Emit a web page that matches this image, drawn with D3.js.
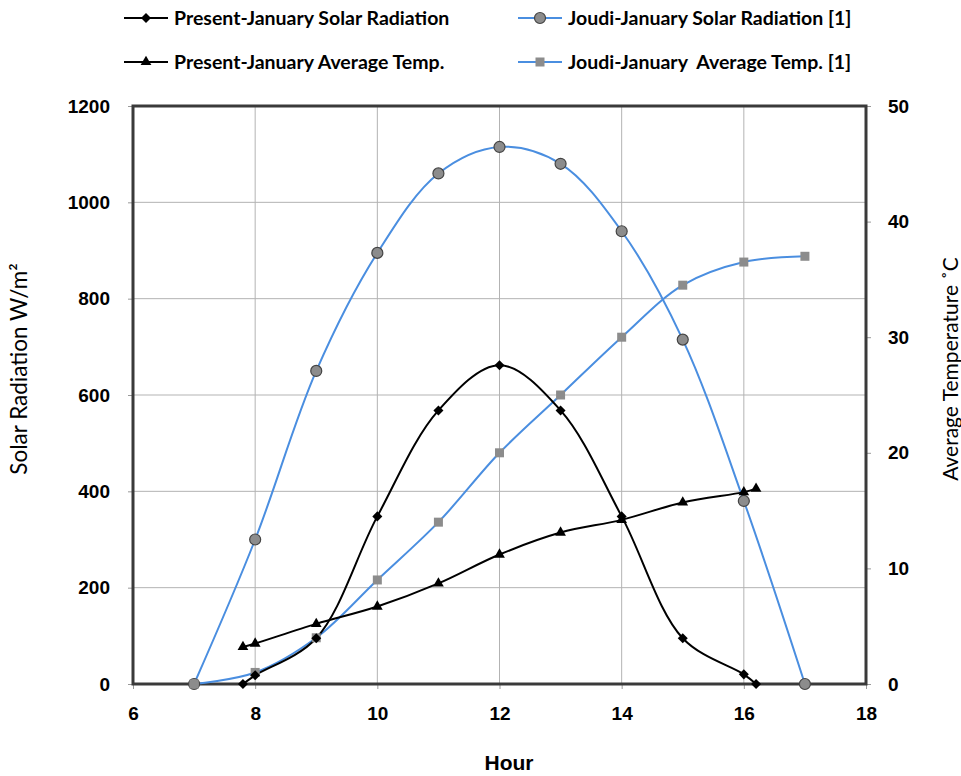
<!DOCTYPE html>
<html>
<head>
<meta charset="utf-8">
<script src="https://cdn.jsdelivr.net/npm/d3@7"></script>
<style>
  body { margin: 0; background: #fff; }
  svg text { fill: #000; }
</style>
</head>
<body>
<script>
// hours and values
var presentSolarHours = [7.8, 8, 9, 10, 11, 12, 13, 14, 15, 16, 16.2];
var presentSolar = [0, 18, 95, 348, 568, 662, 568, 348, 95, 20, 0];

var presentTempHours = [7.8, 8, 9, 10, 11, 12, 13, 14, 15, 16, 16.2];
var presentTemp = [3.2, 3.5, 5.2, 6.7, 8.7, 11.2, 13.1, 14.2, 15.7, 16.6, 16.9];

var joudiHours = [7, 8, 9, 10, 11, 12, 13, 14, 15, 16, 17];
var joudiSolar = [0, 300, 650, 895, 1060, 1115, 1080, 940, 715, 380, 0];
var joudiTemp = [0, 1.0, 4.0, 9.0, 14.0, 20.0, 25.0, 30.0, 34.5, 36.5, 37.0];

var xTicks = [6, 8, 10, 12, 14, 16, 18];
var leftTicks = [0, 200, 400, 600, 800, 1000, 1200];
var rightTicks = [0, 10, 20, 30, 40, 50];

var svgWidth = 961;
var svgHeight = 776;
var plot = { left: 133, right: 866, top: 106, bottom: 684 };

var svg = d3.select("body")
  .append("svg")
    .attr("width", svgWidth)
    .attr("height", svgHeight);

var x = d3.scaleLinear().domain([6, 18]).range([plot.left, plot.right]);
var y = d3.scaleLinear().domain([0, 1200]).range([plot.bottom, plot.top]);
var y2 = d3.scaleLinear().domain([0, 50]).range([plot.bottom, plot.top]);

var blue = "#4a8ee0";
var tickFont = "'Liberation Sans', Arial, sans-serif";
var labelFont = "Lato, 'Open Sans', sans-serif";

// grid
svg.append("g")
  .selectAll("line")
  .data(xTicks.slice(1, -1))
  .enter().append("line")
    .attr("x1", d => x(d)).attr("x2", d => x(d))
    .attr("y1", plot.top).attr("y2", plot.bottom)
    .attr("stroke", "#b3b3b3").attr("stroke-width", 1);
svg.append("g")
  .selectAll("line")
  .data(leftTicks.slice(1, -1))
  .enter().append("line")
    .attr("x1", plot.left).attr("x2", plot.right)
    .attr("y1", d => y(d)).attr("y2", d => y(d))
    .attr("stroke", "#b3b3b3").attr("stroke-width", 1);

// axes
var xAxis = svg.append("g")
  .attr("transform", "translate(0," + plot.bottom + ")")
  .call(d3.axisBottom(x).tickValues(xTicks).tickSize(5).tickPadding(18));
var yAxis = svg.append("g")
  .attr("transform", "translate(" + plot.left + ",0)")
  .call(d3.axisLeft(y).tickValues(leftTicks).tickFormat(d3.format("d")).tickSize(5).tickPadding(18));
var y2Axis = svg.append("g")
  .attr("transform", "translate(" + plot.right + ",0)")
  .call(d3.axisRight(y2).tickValues(rightTicks).tickSize(5).tickPadding(17));

[xAxis, yAxis, y2Axis].forEach(function(g) {
  g.select(".domain").remove();
  g.selectAll(".tick line").attr("stroke", "#999");
  g.selectAll("text")
    .style("font-family", tickFont)
    .style("font-size", "19px")
    .style("font-weight", "bold");
});

// frame
svg.append("rect")
  .attr("x", plot.left).attr("y", plot.top)
  .attr("width", plot.right - plot.left).attr("height", plot.bottom - plot.top)
  .attr("fill", "none").attr("stroke", "#3a3a3a").attr("stroke-width", 3);

// lines
var curve = d3.curveCatmullRom.alpha(0.5);
function drawLine(hours, vals, scale, color) {
  var line = d3.line()
    .x((d, i) => x(hours[i]))
    .y(d => scale(d))
    .curve(curve);
  svg.append("path")
    .datum(vals)
    .attr("d", line)
    .attr("fill", "none")
    .attr("stroke", color)
    .attr("stroke-width", 2);
}

drawLine(joudiHours, joudiSolar, y, blue);
drawLine(joudiHours, joudiTemp, y2, blue);
drawLine(presentSolarHours, presentSolar, y, "#000");
drawLine(presentTempHours, presentTemp, y2, "#000");

// markers
var diamond = d3.symbol().type(d3.symbolDiamond2).size(64);
var triangle = d3.symbol().type(d3.symbolTriangle).size(50);

function markers(hours, vals, scale, draw) {
  var g = svg.append("g");
  vals.forEach(function(v, i) { draw(g, x(hours[i]), scale(v)); });
}

function drawCircle(g, cx, cy) {
  g.append("circle").attr("cx", cx).attr("cy", cy).attr("r", 5.5)
    .attr("fill", "#8c8c8c").attr("stroke", "#444").attr("stroke-width", 1.2);
}
function drawSquare(g, cx, cy) {
  g.append("rect").attr("x", cx - 4.5).attr("y", cy - 4.5)
    .attr("width", 9).attr("height", 9).attr("fill", "#8c8c8c");
}
function drawDiamond(g, cx, cy) {
  g.append("path").attr("d", diamond)
    .attr("transform", "translate(" + cx + "," + cy + ")")
    .attr("fill", "#000");
}
function drawTriangle(g, cx, cy) {
  g.append("path").attr("d", triangle)
    .attr("transform", "translate(" + cx + "," + cy + ")")
    .attr("fill", "#000");
}

markers(joudiHours, joudiSolar, y, drawCircle);
markers(joudiHours, joudiTemp, y2, drawSquare);
markers(presentSolarHours, presentSolar, y, drawDiamond);
markers(presentTempHours, presentTemp, y2, drawTriangle);

// legend
var legend = [
  { label: "Present-January Solar Radiation", color: "#000", mark: drawDiamond, x: 124, y: 18 },
  { label: "Joudi-January Solar Radiation [1]", color: blue, mark: drawCircle, x: 518, y: 18 },
  { label: "Present-January Average Temp.", color: "#000", mark: drawTriangle, x: 124, y: 62 },
  { label: "Joudi-January  Average Temp. [1]", color: blue, mark: drawSquare, x: 518, y: 62 }
];
legend.forEach(function(l) {
  var g = svg.append("g");
  g.append("line")
    .attr("x1", l.x).attr("x2", l.x + 44)
    .attr("y1", l.y).attr("y2", l.y)
    .attr("stroke", l.color).attr("stroke-width", 2);
  l.mark(g, l.x + 22, l.y);
  g.append("text")
    .attr("x", l.x + 50).attr("y", l.y + 7)
    .style("font-family", labelFont)
    .style("font-size", "19.5px")
    .style("font-weight", "bold")
    .style("white-space", "pre")
    .text(l.label);
});

// axis titles
svg.append("text")
  .attr("transform", "translate(27,369) rotate(-90)")
  .attr("text-anchor", "middle")
  .style("font-family", labelFont)
  .style("font-size", "22.5px")
  .text("Solar Radiation W/m²");

svg.append("text")
  .attr("transform", "translate(958,369) rotate(-90)")
  .attr("text-anchor", "middle")
  .style("font-family", labelFont)
  .style("font-size", "21px")
  .text("Average Temperature ˚C");

svg.append("text")
  .attr("x", 509).attr("y", 770)
  .attr("text-anchor", "middle")
  .style("font-family", tickFont)
  .style("font-size", "21px")
  .style("font-weight", "bold")
  .text("Hour");
</script>
</body>
</html>
